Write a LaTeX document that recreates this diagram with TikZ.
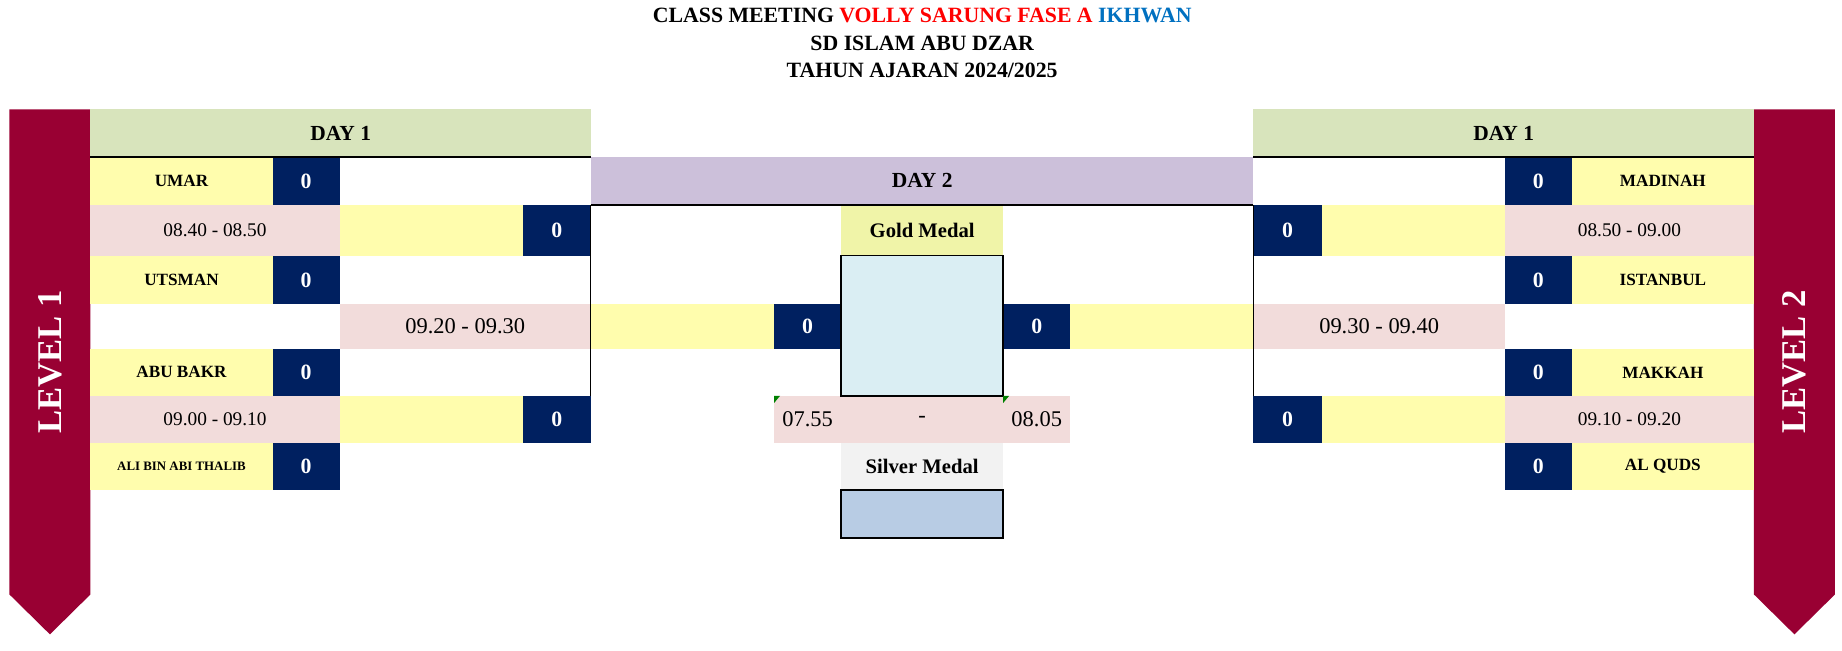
\documentclass[tikz,border=0pt]{standalone}
\usepackage{fontspec}
\setmainfont{Liberation Serif}
\definecolor{levelred}{HTML}{990033}
\definecolor{dayone}{HTML}{D8E4BC}
\definecolor{daytwo}{HTML}{CCC0DA}
\definecolor{nameyellow}{HTML}{FFFDAD}
\definecolor{scoreblue}{HTML}{002060}
\definecolor{timepink}{HTML}{F2DCDB}
\definecolor{goldlabel}{HTML}{F0F4A8}
\definecolor{goldblue}{HTML}{DAEEF3}
\definecolor{silverlabel}{HTML}{F2F2F2}
\definecolor{silverblue}{HTML}{B8CCE4}
\definecolor{titlered}{HTML}{FF0000}
\definecolor{titleblue}{HTML}{0070C0}
\definecolor{markgreen}{HTML}{008000}
\tikzset{
    cellbox/.style={inner sep=0pt, outer sep=0pt, align=center},
    header/.style={cellbox, font=\bfseries\fontsize{13}{15}\selectfont},
    namecell/.style={cellbox, fill=nameyellow, font=\bfseries\fontsize{10.4}{12}\selectfont},
    smallname/.style={namecell, font=\bfseries\fontsize{7.8}{9}\selectfont},
    scorecell/.style={cellbox, fill=scoreblue, text=white, font=\bfseries\fontsize{13.2}{15}\selectfont},
    wincell/.style={cellbox, fill=nameyellow},
    timecell/.style={cellbox, fill=timepink, font=\fontsize{11.7}{14}\selectfont},
    bigtime/.style={timecell, font=\fontsize{13.6}{16}\selectfont},
    medallabel/.style={cellbox, font=\bfseries\fontsize{12.5}{15}\selectfont},
    medalbox/.style={cellbox, draw=black, line width=1pt},
    titletext/.style={inner sep=0pt, font=\bfseries\fontsize{13.2}{15}\selectfont},
    leveltext/.style={inner sep=0pt, rotate=90, text=white, font=\bfseries\fontsize{21}{24}\selectfont},
    headline/.style={line width=0.9pt},
    bracketline/.style={line width=0.5pt}
}
% name, style, x1, y1, x2, y2, text (sheet pixels)
\newcommand{\sheetcell}[7]{\node[#2, minimum width={(#5-#3)*0.25mm}, minimum height={(#6-#4)*0.25mm}] (#1) at ({(#3+#5)/2},{(#4+#6)/2}) {#7};}
\begin{document}
\begin{tikzpicture}[x=0.25mm, y=-0.25mm]
    \useasboundingbox (0,0) rectangle (1568,554);
    \node[titletext] (title1) at (785,13) {CLASS MEETING \textcolor{titlered}{VOLLY SARUNG FASE A} \textcolor{titleblue}{IKHWAN}};
    \node[titletext] (title2) at (785,37) {SD ISLAM ABU DZAR};
    \node[titletext] (title3) at (785,60) {TAHUN AJARAN 2024/2025};

    \fill[levelred] (8,93) -- (77,93) -- (77,506) -- (42.5,540) -- (8,506) -- cycle;
    \fill[levelred] (1493,93) -- (1562,93) -- (1562,506) -- (1527.5,540) -- (1493,506) -- cycle;
    \node[leveltext] (level1) at (42.5,308) {LEVEL 1};
    \node[leveltext] (level2) at (1527.5,308) {LEVEL 2};

    % left bracket
    \sheetcell{dayoneL}{header, fill=dayone}{77}{93}{503}{133.5}{DAY 1}
    \sheetcell{umar}{namecell}{77}{133.5}{232}{174.5}{UMAR}
    \sheetcell{umarsc}{scorecell}{232}{133.5}{289}{174.5}{0}
    \sheetcell{timeLa}{timecell}{77}{174.5}{289}{217.5}{08.40 - 08.50}
    \sheetcell{winLa}{wincell}{289}{174.5}{445}{217.5}{}
    \sheetcell{winLasc}{scorecell}{445}{174.5}{503}{217.5}{0}
    \sheetcell{utsman}{namecell}{77}{217.5}{232}{259}{UTSMAN}
    \sheetcell{utsmansc}{scorecell}{232}{217.5}{289}{259}{0}
    \sheetcell{semiL}{bigtime}{289}{259}{503}{297}{09.20 - 09.30}
    \sheetcell{abubakr}{namecell}{77}{297}{232}{337}{ABU BAKR}
    \sheetcell{abubakrsc}{scorecell}{232}{297}{289}{337}{0}
    \sheetcell{timeLb}{timecell}{77}{337}{289}{377}{09.00 - 09.10}
    \sheetcell{winLb}{wincell}{289}{337}{445}{377}{}
    \sheetcell{winLbsc}{scorecell}{445}{337}{503}{377}{0}
    \sheetcell{ali}{smallname}{77}{377}{232}{417}{ALI BIN ABI THALIB}
    \sheetcell{alisc}{scorecell}{232}{377}{289}{417}{0}

    % final
    \sheetcell{daytwo}{header, fill=daytwo}{503}{133.5}{1067}{174.5}{DAY 2}
    \sheetcell{goldlabel}{medallabel, fill=goldlabel}{716}{174.5}{854}{217.5}{Gold Medal}
    \sheetcell{finalL}{wincell}{503}{259}{659}{297}{}
    \sheetcell{finalLsc}{scorecell}{659}{259}{716}{297}{0}
    \sheetcell{finalRsc}{scorecell}{854}{259}{911}{297}{0}
    \sheetcell{finalR}{wincell}{911}{259}{1067}{297}{}
    \sheetcell{fstart}{bigtime}{659}{337}{716}{377}{07.55}
    \sheetcell{fdash}{bigtime}{716}{337}{854}{377}{-}
    \sheetcell{fend}{bigtime}{854}{337}{911}{377}{08.05}
    \sheetcell{goldbox}{medalbox, fill=goldblue}{716}{217.5}{854}{337}{}
    \sheetcell{silverlabel}{medallabel, fill=silverlabel}{716}{377}{854}{417}{Silver Medal}
    \sheetcell{silverbox}{medalbox, fill=silverblue}{716}{417}{854}{458}{}
    \fill[markgreen] (fstart.north west) -- ++(5,0) -- ++(-5,6) -- cycle;
    \fill[markgreen] (fend.north west) -- ++(5,0) -- ++(-5,6) -- cycle;

    % right bracket
    \sheetcell{dayoneR}{header, fill=dayone}{1067}{93}{1493}{133.5}{DAY 1}
    \sheetcell{madinah}{namecell}{1338}{133.5}{1493}{174.5}{MADINAH}
    \sheetcell{madinahsc}{scorecell}{1281}{133.5}{1338}{174.5}{0}
    \sheetcell{timeRa}{timecell}{1281}{174.5}{1493}{217.5}{08.50 - 09.00}
    \sheetcell{winRa}{wincell}{1125}{174.5}{1281}{217.5}{}
    \sheetcell{winRasc}{scorecell}{1067}{174.5}{1125}{217.5}{0}
    \sheetcell{istanbul}{namecell}{1338}{217.5}{1493}{259}{ISTANBUL}
    \sheetcell{istanbulsc}{scorecell}{1281}{217.5}{1338}{259}{0}
    \sheetcell{semiR}{bigtime}{1067}{259}{1281}{297}{09.30 - 09.40}
    \sheetcell{makkah}{namecell}{1338}{297}{1493}{337}{MAKKAH}
    \sheetcell{makkahsc}{scorecell}{1281}{297}{1338}{337}{0}
    \sheetcell{timeRb}{timecell}{1281}{337}{1493}{377}{09.10 - 09.20}
    \sheetcell{winRb}{wincell}{1125}{337}{1281}{377}{}
    \sheetcell{winRbsc}{scorecell}{1067}{337}{1125}{377}{0}
    \sheetcell{alquds}{namecell}{1338}{377}{1493}{417}{AL QUDS}
    \sheetcell{alqudssc}{scorecell}{1281}{377}{1338}{417}{0}

    \draw[headline] (dayoneL.south west) -- (dayoneL.south east);
    \draw[headline] (dayoneR.south west) -- (dayoneR.south east);
    \draw[headline] (daytwo.south west) -- (daytwo.south east);
    \draw[bracketline] (daytwo.south west) -- (winLbsc.north east);
    \draw[bracketline] (daytwo.south east) -- (winRbsc.north west);
\end{tikzpicture}
\end{document}
